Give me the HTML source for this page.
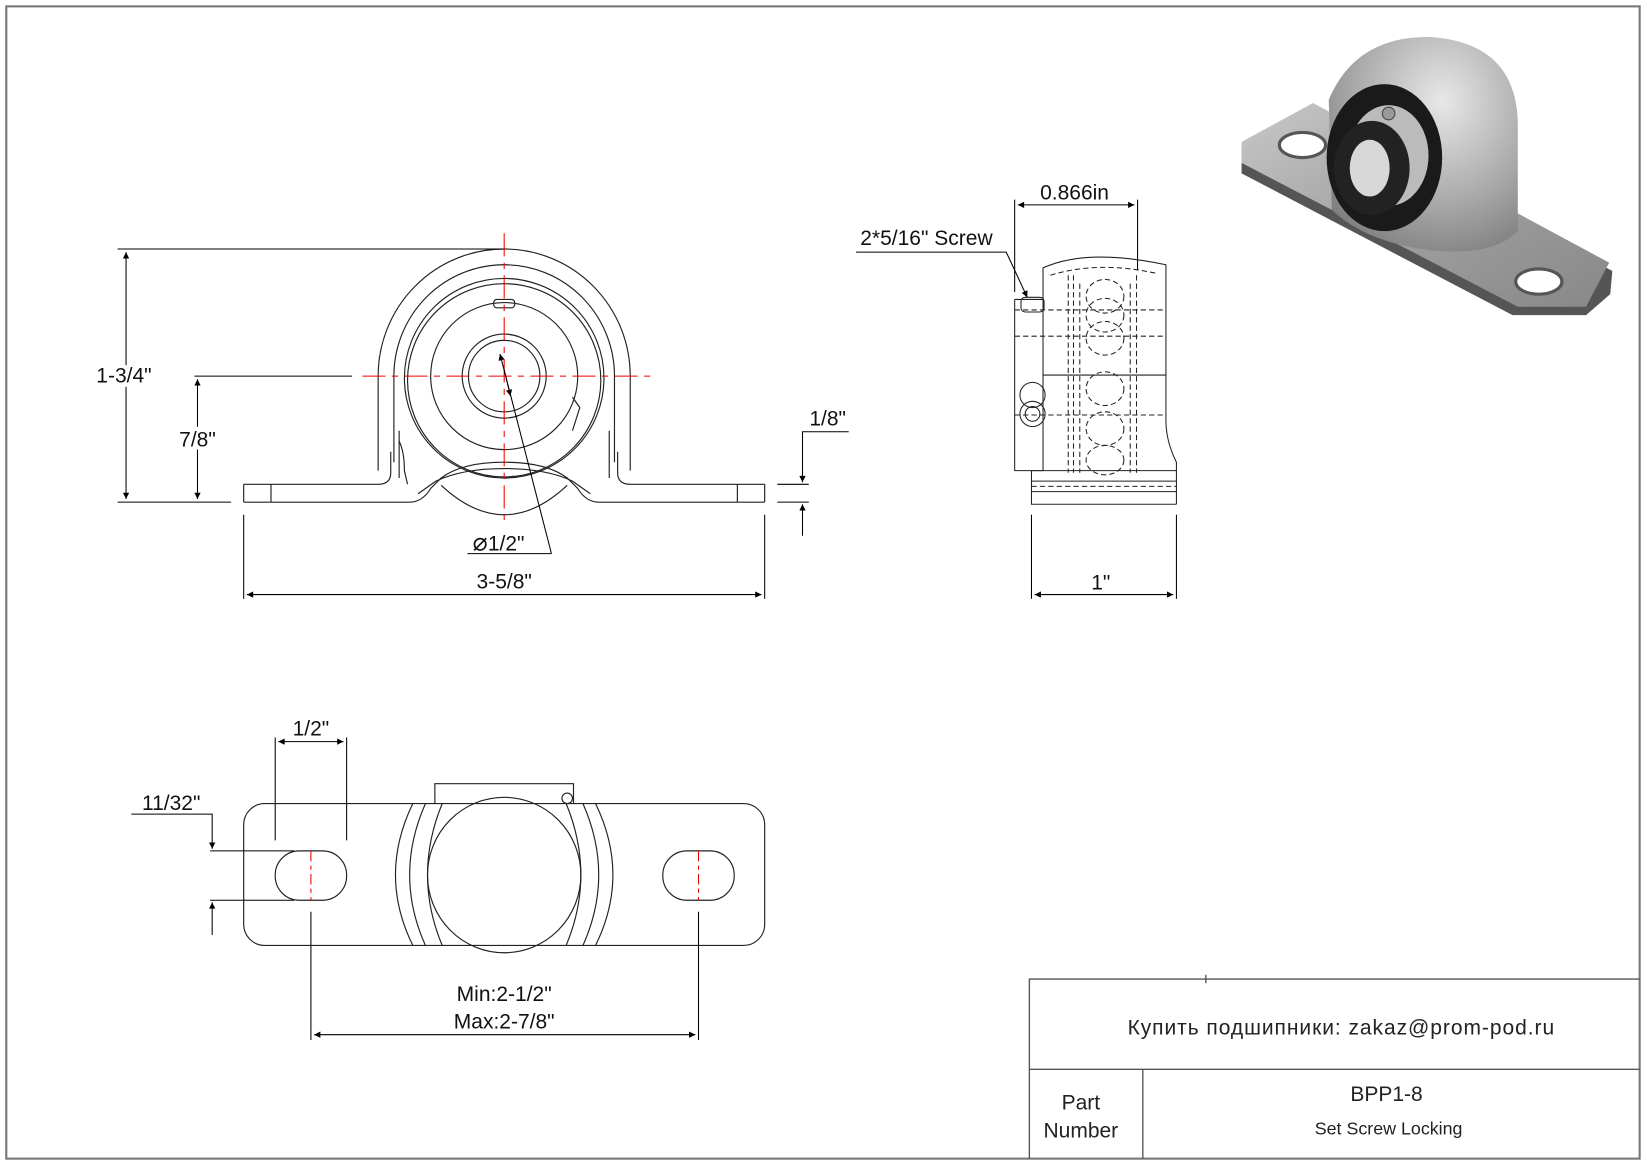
<!DOCTYPE html>
<html><head><meta charset="utf-8"><style>html,body{margin:0;padding:0;background:#fff}svg{display:block}</style></head>
<body>
<svg width="1647" height="1165" viewBox="0 0 1568 1109" xmlns="http://www.w3.org/2000/svg" font-family="Liberation Sans, Noto Sans CJK SC, sans-serif">
<defs>
<marker id="a" viewBox="0 0 10 10" refX="10" refY="5" markerWidth="18" markerHeight="6" orient="auto-start-reverse" markerUnits="userSpaceOnUse"><path d="M0,0 L10,5 L0,10z" fill="#000"/></marker>
<linearGradient id="g1" x1="0" y1="0" x2="1" y2="1"><stop offset="0" stop-color="#c8c8c8"/><stop offset="0.5" stop-color="#a0a0a0"/><stop offset="1" stop-color="#888"/></linearGradient>
<radialGradient id="g2" cx="0.6" cy="0.3" r="0.8"><stop offset="0" stop-color="#e8e8e8"/><stop offset="0.6" stop-color="#a8a8a8"/><stop offset="1" stop-color="#7a7a7a"/></radialGradient>
</defs>
<rect x="6" y="6" width="1555" height="1097" fill="none" stroke="#777" stroke-width="2"/>

<!-- title block -->
<g stroke="#555" stroke-width="1.3" fill="none">
<polyline points="980,1103 980,932 1561,932"/>
<line x1="980" y1="1018" x2="1561" y2="1018"/>
<line x1="1088" y1="1018" x2="1088" y2="1103"/>
<line x1="1148" y1="928" x2="1148" y2="936"/>
</g>
<text x="1277" y="985" font-size="20" letter-spacing="0.9" text-anchor="middle" fill="#222">Купить подшипники: zakaz@prom-pod.ru</text>
<text x="1029" y="1056" font-size="20" text-anchor="middle" fill="#222">Part</text>
<text x="1029" y="1083" font-size="20" text-anchor="middle" fill="#222">Number</text>
<text x="1320" y="1048" font-size="20" text-anchor="middle" fill="#222">BPP1-8</text>
<text x="1322" y="1080" font-size="17" text-anchor="middle" fill="#222">Set Screw Locking</text>

<!-- FRONT VIEW -->
<g stroke="#222" stroke-width="1.1" fill="none">
<path d="M360,448 L360,358 A120,121 0 0 1 600,358 L600,448"/>
<path d="M375,440 L375,358 A105,106 0 0 1 585,358 L585,440"/>
<circle cx="480" cy="360" r="95"/>
<circle cx="480" cy="362" r="92"/>
<circle cx="480" cy="358" r="70"/>
<circle cx="480" cy="358" r="40"/>
<circle cx="480" cy="358" r="34"/>
<rect x="470" y="285" width="20" height="8" rx="3"/>
<path d="M545,378 L552,388 L545,410"/>
<path d="M232,461 L360,461 Q372,461 372,450 L372,430"/>
<path d="M232,478 L390,478 Q402,478 410,465 L420,455 Q440,440 480,440 Q520,440 540,455 L550,465 Q558,478 570,478 L728,478"/>
<path d="M388,461 L385,448 Q385,430 380,420"/>
<path d="M728,461 L600,461 Q588,461 588,450 L588,430"/>
<line x1="232" y1="461" x2="232" y2="478"/><line x1="728" y1="461" x2="728" y2="478"/>
<line x1="258" y1="461" x2="258" y2="478"/><line x1="702" y1="461" x2="702" y2="478"/>
<path d="M398,470 L415,458 Q440,446 480,446 Q520,446 545,458 L562,470"/>
<path d="M420,462 Q450,490 480,490 Q510,490 540,462"/>
<line x1="380" y1="410" x2="380" y2="455"/><line x1="580" y1="410" x2="580" y2="455"/>
</g>
<g stroke="#e00" stroke-width="1" stroke-dasharray="22,6,6,6">
<line x1="480" y1="222" x2="480" y2="495"/>
<line x1="345" y1="358" x2="620" y2="358"/>
</g>
<!-- front dims -->
<g stroke="#000" stroke-width="1" fill="none">
<line x1="112" y1="237" x2="478" y2="237"/>
<line x1="185" y1="358" x2="335" y2="358"/>
<line x1="112" y1="478" x2="220" y2="478"/>
<line x1="120" y1="240" x2="120" y2="475" marker-start="url(#a)" marker-end="url(#a)"/>
<line x1="188" y1="361" x2="188" y2="475" marker-start="url(#a)" marker-end="url(#a)"/>
<line x1="232" y1="490" x2="232" y2="570"/><line x1="728" y1="490" x2="728" y2="570"/>
<line x1="235" y1="566" x2="725" y2="566" marker-start="url(#a)" marker-end="url(#a)"/>
<line x1="740" y1="461" x2="770" y2="461"/><line x1="740" y1="478" x2="770" y2="478"/>
<polyline points="808,411 764,411 764,459" marker-end="url(#a)"/>
<line x1="764" y1="510" x2="764" y2="480" marker-end="url(#a)"/>
<line x1="525" y1="527" x2="476" y2="337" marker-end="url(#a)"/>
<line x1="480" y1="352" x2="486" y2="377" marker-end="url(#a)"/>
<line x1="445" y1="527" x2="525" y2="527"/>
</g>
<g font-size="20" fill="#111">
<text x="118" y="364" text-anchor="middle" stroke="#fff" stroke-width="8" paint-order="stroke">1-3/4"</text>
<text x="188" y="425" text-anchor="middle" stroke="#fff" stroke-width="8" paint-order="stroke">7/8"</text>
<text x="480" y="560" text-anchor="middle">3-5/8"</text>
<text x="788" y="405" text-anchor="middle">1/8"</text>
<text x="450" y="524"><tspan font-size="24">⌀</tspan>1/2"</text>
</g>

<!-- SIDE VIEW -->
<g stroke="#222" stroke-width="1" fill="none">
<path d="M993,448 L993,255 Q1035,236 1110,252 L1110,400 Q1110,420 1120,440 L1120,480"/>
<path d="M982,448 L982,480 L1120,480"/>
<line x1="982" y1="448" x2="1120" y2="448"/>
<line x1="982" y1="458" x2="1120" y2="458"/>
<line x1="982" y1="468" x2="1120" y2="468"/>
<path d="M966,285 L966,448 L993,448"/><line x1="966" y1="285" x2="993" y2="285"/>
<line x1="993" y1="357" x2="1110" y2="357"/>
<g stroke-dasharray="5,3">
<path d="M1000,262 Q1045,248 1100,260"/>
<line x1="1017" y1="262" x2="1017" y2="450"/><line x1="1022" y1="262" x2="1022" y2="450"/>
<line x1="1028" y1="270" x2="1028" y2="450"/><line x1="1076" y1="270" x2="1076" y2="450"/>
<line x1="1082" y1="262" x2="1082" y2="450"/>
<line x1="966" y1="295" x2="1110" y2="295"/><line x1="966" y1="320" x2="1110" y2="320"/>
<line x1="966" y1="395" x2="1110" y2="395"/><line x1="982" y1="463" x2="1120" y2="463"/>
<ellipse cx="1052" cy="282" rx="18" ry="16"/><ellipse cx="1052" cy="300" rx="18" ry="16"/>
<ellipse cx="1052" cy="322" rx="18" ry="16"/><ellipse cx="1052" cy="370" rx="18" ry="16"/>
<ellipse cx="1052" cy="408" rx="18" ry="16"/><ellipse cx="1052" cy="438" rx="18" ry="14"/>
</g>
<rect x="972" y="283" width="22" height="14" rx="4"/>
<circle cx="983" cy="376" r="12"/><circle cx="983" cy="394" r="12"/><circle cx="983" cy="394" r="7"/>
</g>
<g stroke="#000" stroke-width="1" fill="none">
<line x1="966" y1="190" x2="966" y2="278"/><line x1="1083" y1="190" x2="1083" y2="257"/>
<line x1="969" y1="195" x2="1080" y2="195" marker-start="url(#a)" marker-end="url(#a)"/>
<polyline points="815,240 958,240 978,283" marker-end="url(#a)"/>
<line x1="982" y1="490" x2="982" y2="570"/><line x1="1120" y1="490" x2="1120" y2="570"/>
<line x1="985" y1="566" x2="1117" y2="566" marker-start="url(#a)" marker-end="url(#a)"/>
</g>
<g font-size="20" fill="#111">
<text x="1023" y="190" text-anchor="middle">0.866in</text>
<text x="882" y="233" text-anchor="middle">2*5/16" Screw</text>
<text x="1048" y="561" text-anchor="middle">1"</text>
</g>

<!-- TOP VIEW -->
<g stroke="#222" stroke-width="1.1" fill="none">
<rect x="232" y="765" width="496" height="135" rx="20"/>
<rect x="262" y="810" width="68" height="47" rx="23"/>
<rect x="631" y="810" width="68" height="47" rx="23"/>
<ellipse cx="480" cy="833" rx="73" ry="74"/>
<path d="M405,765 Q375,833 405,900"/><path d="M555,765 Q585,833 555,900"/>
<path d="M393,765 Q360,833 393,900"/><path d="M567,765 Q600,833 567,900"/>
<path d="M421,765 Q393,833 421,900"/><path d="M539,765 Q567,833 539,900"/>
<polyline points="414,765 414,746 546,746 546,765"/>
<circle cx="540" cy="760" r="5"/>
</g>
<g stroke="#e00" stroke-width="1" stroke-dasharray="10,4,4,4">
<line x1="296" y1="810" x2="296" y2="857"/><line x1="665" y1="810" x2="665" y2="857"/>
</g>
<g stroke="#000" stroke-width="1" fill="none">
<line x1="262" y1="702" x2="262" y2="800"/><line x1="330" y1="702" x2="330" y2="800"/>
<line x1="265" y1="706" x2="327" y2="706" marker-start="url(#a)" marker-end="url(#a)"/>
<line x1="200" y1="810" x2="280" y2="810"/><line x1="200" y1="857" x2="280" y2="857"/>
<polyline points="125,775 202,775 202,808" marker-end="url(#a)"/>
<line x1="202" y1="890" x2="202" y2="859" marker-end="url(#a)"/>
<line x1="296" y1="868" x2="296" y2="990"/><line x1="665" y1="868" x2="665" y2="990"/>
<line x1="299" y1="985" x2="662" y2="985" marker-start="url(#a)" marker-end="url(#a)"/>
</g>
<g font-size="20" fill="#111">
<text x="296" y="700" text-anchor="middle">1/2"</text>
<text x="163" y="771" text-anchor="middle">11/32"</text>
<text x="480" y="953" text-anchor="middle">Min:2-1/2"</text>
<text x="480" y="979" text-anchor="middle">Max:2-7/8"</text>
</g>

<!-- 3D render -->
<g>
<path d="M1182,140 L1250,102 L1535,258 L1533,280 L1510,300 L1440,300 L1182,165 Z" fill="#555"/>
<path d="M1182,135 L1250,98 L1532,250 L1510,292 L1445,292 L1182,155 Z" fill="url(#g1)"/>
<ellipse cx="1240" cy="138" rx="22" ry="12" fill="#fff" stroke="#555" stroke-width="3"/>
<ellipse cx="1465" cy="268" rx="22" ry="12" fill="#fff" stroke="#555" stroke-width="3"/>
<path d="M1265,95 Q1290,35 1360,35 Q1445,40 1445,120 L1445,220 Q1420,245 1360,238 Q1300,230 1268,200 Z" fill="url(#g2)"/>
<ellipse cx="1318" cy="150" rx="55" ry="70" fill="#1a1a1a"/>
<ellipse cx="1322" cy="148" rx="38" ry="48" fill="#bbb"/>
<ellipse cx="1306" cy="160" rx="36" ry="45" fill="#222"/>
<ellipse cx="1304" cy="160" rx="19" ry="27" fill="#d8d8d8"/>
<circle cx="1322" cy="108" r="6" fill="#999" stroke="#444"/>
</g>
</svg>
</body></html>
